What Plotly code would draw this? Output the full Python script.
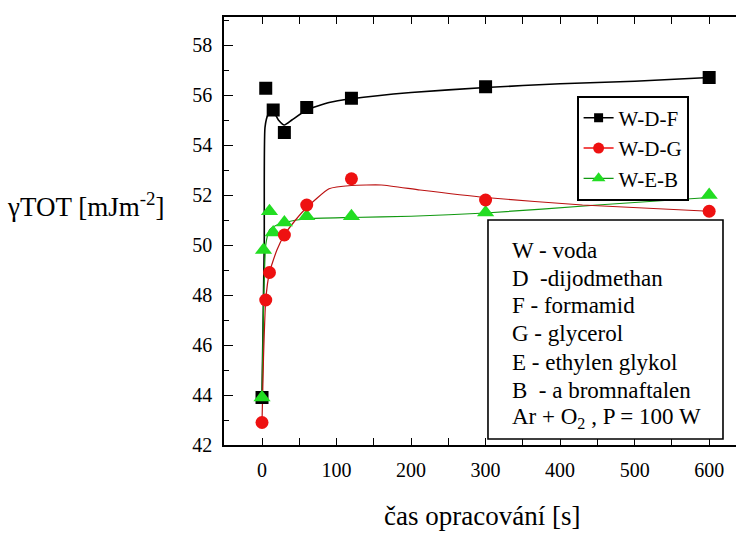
import plotly.graph_objects as go

# ---- data ----
wdf_x = [0, 5, 15, 30, 60, 120, 300, 600]
wdf_y = [43.9, 56.27, 55.4, 54.5, 55.5, 55.87, 56.33, 56.7]

wdg_x = [0, 5, 10, 30, 60, 120, 300, 600]
wdg_y = [42.9, 47.8, 48.9, 50.4, 51.6, 52.65, 51.8, 51.35]

web_x = [0, 2, 10, 15, 30, 60, 120, 300, 600]
web_y = [43.9, 49.8, 51.35, 50.5, 50.9, 51.15, 51.15, 51.3, 52.0]

# smoothed curves as drawn in the picture
wdf_fit_x = [0, 3, 4, 8, 15, 22, 30, 40, 60, 90, 120, 200, 300, 400, 500, 600]
wdf_fit_y = [43.9, 50.0, 54.7, 55.2, 55.35, 55.0, 54.8, 55.0, 55.4, 55.7, 55.85, 56.1, 56.3, 56.45, 56.55, 56.7]

wdg_fit_x = [0, 2, 5, 10, 20, 30, 45, 60, 90, 120, 160, 212, 300, 430, 600]
wdg_fit_y = [42.9, 45.5, 47.8, 48.9, 49.8, 50.4, 51.0, 51.5, 52.25, 52.38, 52.4, 52.2, 51.9, 51.6, 51.35]

web_fit_x = [0, 2, 5, 10, 20, 30, 60, 120, 200, 300, 450, 600]
web_fit_y = [43.9, 47.5, 50.0, 50.6, 50.8, 50.9, 51.05, 51.1, 51.15, 51.28, 51.6, 51.9]

series_names = ["W-D-F", "W-D-G", "W-E-B"]
x_ticks = [0, 100, 200, 300, 400, 500, 600]
y_ticks = [42, 44, 46, 48, 50, 52, 54, 56, 58]

note_lines = [
    "W - voda",
    "D  -dijodmethan",
    "F - formamid",
    "G - glycerol",
    "E - ethylen glykol",
    "B  - a bromnaftalen",
    "Ar + O<sub>2</sub> , P = 100 W",
]

SERIF = "Liberation Serif"
BLACK = "#000000"
RED = "#ee1111"
GREEN = "#22dd22"

fig = go.Figure()

# fitted curves
fig.add_trace(go.Scatter(x=wdf_fit_x, y=wdf_fit_y, mode="lines",
                         line=dict(color=BLACK, width=1.6, shape="spline", smoothing=0.5),
                         showlegend=False, hoverinfo="skip"))
fig.add_trace(go.Scatter(x=web_fit_x, y=web_fit_y, mode="lines",
                         line=dict(color="#119911", width=1.2, shape="spline", smoothing=0.5),
                         showlegend=False, hoverinfo="skip"))
fig.add_trace(go.Scatter(x=wdg_fit_x, y=wdg_fit_y, mode="lines",
                         line=dict(color="#bb1111", width=1.2, shape="spline", smoothing=0.5),
                         showlegend=False, hoverinfo="skip"))

# markers
fig.add_trace(go.Scatter(x=wdf_x, y=wdf_y, mode="markers",
                         marker=dict(symbol="square", size=13, color=BLACK),
                         showlegend=False))
fig.add_trace(go.Scatter(x=web_x, y=web_y, mode="markers",
                         marker=dict(symbol="triangle-up", size=15, color=GREEN),
                         showlegend=False))
fig.add_trace(go.Scatter(x=wdg_x, y=wdg_y, mode="markers",
                         marker=dict(symbol="circle", size=13, color=RED),
                         showlegend=False))

# legend entries
legend_styles = [
    (BLACK, "square", 9),
    (RED, "circle", 11),
    (GREEN, "triangle-up", 12),
]
for name, (col, sym, sz) in zip(series_names, legend_styles):
    fig.add_trace(go.Scatter(x=[None], y=[None], mode="lines+markers", name=name,
                             line=dict(color=col if col != GREEN else "#119911", width=1.4),
                             marker=dict(symbol=sym, size=sz, color=col)))

axis_common = dict(
    showline=True, linecolor=BLACK, linewidth=1.6,
    ticks="inside", tickcolor=BLACK, tickwidth=1.3,
    showgrid=False, zeroline=False,
    tickfont=dict(family=SERIF, size=20, color=BLACK),
)

fig.update_xaxes(range=[-51, 636], tickvals=x_ticks, ticklen=7, mirror="ticks",
                 minor=dict(dtick=50, tick0=0, ticks="inside", ticklen=7, tickcolor=BLACK, tickwidth=1.3),
                 ticklabelstandoff=6, **axis_common)
fig.update_yaxes(range=[42, 59.12], tickvals=y_ticks, ticklen=9, mirror=False,
                 minor=dict(dtick=1, tick0=42, ticks="inside", ticklen=5, tickcolor=BLACK, tickwidth=1.3),
                 ticklabelstandoff=6, **axis_common)

# note box
fig.add_shape(type="rect", xref="paper", yref="paper",
              x0=0.5156, x1=0.9746, y0=0.014, y1=0.5257,
              line=dict(color=BLACK, width=1.6), fillcolor="white", layer="above")
note_y_px = [250, 278, 305, 333, 362, 390, 418]
for txt, ypx in zip(note_lines, note_y_px):
    fig.add_annotation(text=txt, xref="paper", yref="paper",
                       x=(510 - 224) / 512, y=(445 - ypx) / 428,
                       xanchor="left", yanchor="middle", showarrow=False,
                       font=dict(family=SERIF, size=23, color=BLACK))

# axis titles
fig.add_annotation(text="γTOT [mJm<sup>-2</sup>]", xref="paper", yref="paper",
                   x=(5 - 224) / 512, y=(445 - 205) / 428, xanchor="left", yanchor="middle",
                   showarrow=False, font=dict(family=SERIF, size=27, color=BLACK))
fig.add_annotation(text="čas opracování [s]", xref="paper", yref="paper",
                   x=(482 - 224) / 512, y=(445 - 516) / 428, xanchor="center", yanchor="middle",
                   showarrow=False, font=dict(family=SERIF, size=27, color=BLACK))

fig.update_layout(
    width=736, height=533,
    margin=dict(l=224, r=0, t=17, b=88),
    paper_bgcolor="white", plot_bgcolor="white",
    showlegend=True,
    font=dict(family=SERIF, color=BLACK),
    legend=dict(x=(577 - 224) / 512, y=(445 - 96) / 428, xanchor="left", yanchor="top",
                bordercolor=BLACK, borderwidth=1.6, bgcolor="white",
                font=dict(family=SERIF, size=21, color=BLACK),
                tracegroupgap=0, itemwidth=30),
)

fig.write_html("out.html")
